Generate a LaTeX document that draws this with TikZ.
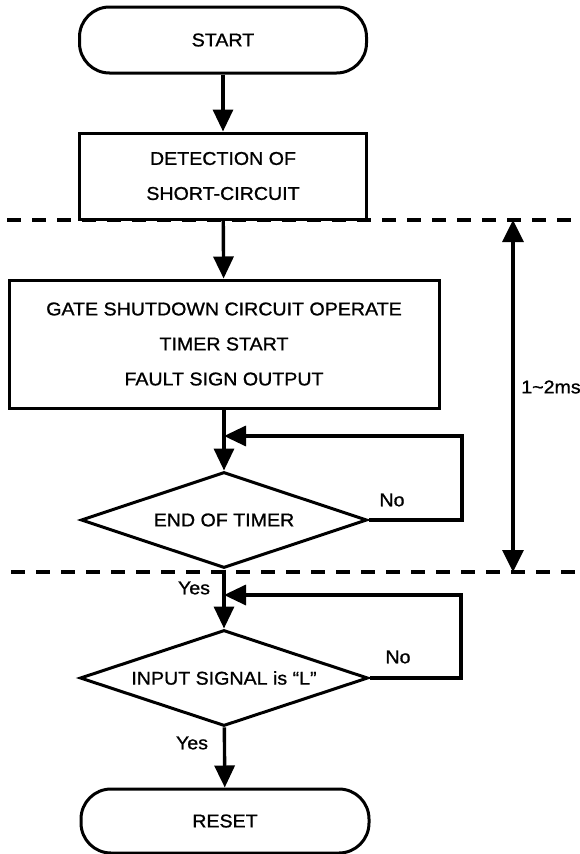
\documentclass[tikz,border=0pt]{standalone}
\usepackage{fontspec}
\setmainfont{Liberation Sans}[FakeStretch=1.06,FakeBold=1]
\usetikzlibrary{arrows.meta,shapes.geometric}
\begin{document}
\begin{tikzpicture}[x=1pt,y=-1pt,
  every node/.style={font=\fontsize{18.5}{35}\selectfont},
  box/.style={draw,line width=3pt,rectangle,align=center,inner sep=0pt},
  term/.style={box,rounded corners=30pt},
  dec/.style={draw,line width=3pt,diamond,shape aspect=3,inner sep=0pt,align=center},
  arr/.style={line width=3.4pt,-{Triangle[length=22pt,width=20pt]}},
  dbl/.style={line width=3.4pt,{Triangle[length=22pt,width=21pt]}-{Triangle[length=22pt,width=21pt]}},
  dline/.style={line width=3.5pt,dash pattern=on 14pt off 11pt},
  lbl/.style={inner sep=0pt}]
\useasboundingbox (0,0) rectangle (580,854);
% nodes
\node[term,minimum width=287pt,minimum height=66pt] (start) at (223,40) {START};
\node[box,minimum width=287pt,minimum height=86pt] (detect) at (223,176) {DETECTION OF\\SHORT-CIRCUIT};
\node[box,minimum width=430pt,minimum height=128pt] (gate) at (224,344) {GATE SHUTDOWN CIRCUIT OPERATE\\TIMER START\\FAULT SIGN OUTPUT};
\node[dec,minimum width=286pt,minimum height=96pt] (dec1) at (224,520) {END OF TIMER};
\node[dec,minimum width=288pt,minimum height=96pt] (dec2) at (224,678) {INPUT SIGNAL is “L”};
\node[term,minimum width=288pt,minimum height=64pt] (reset) at (225,821) {RESET};
% coordinates
\coordinate (j1) at (224,436);
\coordinate (j2) at (224,595);
\coordinate (l1) at (462,520);
\coordinate (l2) at (461,678);
\coordinate (d1a) at (7,220);
\coordinate (d1b) at (580,220);
\coordinate (d2a) at (11,572);
\coordinate (d2b) at (580,572);
\coordinate (t1) at (513,220);
\coordinate (t2) at (513,572);
% dashed lines
\draw[dline] (d1a) -- (d1b);
\draw[dline] (d2a) -- (d2b);
% connectors
\draw[arr] (start) -- (detect);
\draw[arr] (detect) -- (gate);
\draw[arr] (gate) -- (dec1);
\draw[arr] (dec1) -- (dec2);
\draw[arr] (dec2) -- (reset);
\draw[arr] (dec1.east) -- (l1) |- (j1);
\draw[arr] (dec2.east) -- (l2) |- (j2);
\draw[dbl] (t1) -- (t2);
% labels
\node[lbl] (no1) at (392,500) {No};
\node[lbl] (no2) at (398,657) {No};
\node[lbl] (yes1) at (194,588) {Yes};
\node[lbl] (yes2) at (192,743) {Yes};
\node[lbl] (ms) at (551,387) {1\char`\~2ms};
\end{tikzpicture}
\end{document}
